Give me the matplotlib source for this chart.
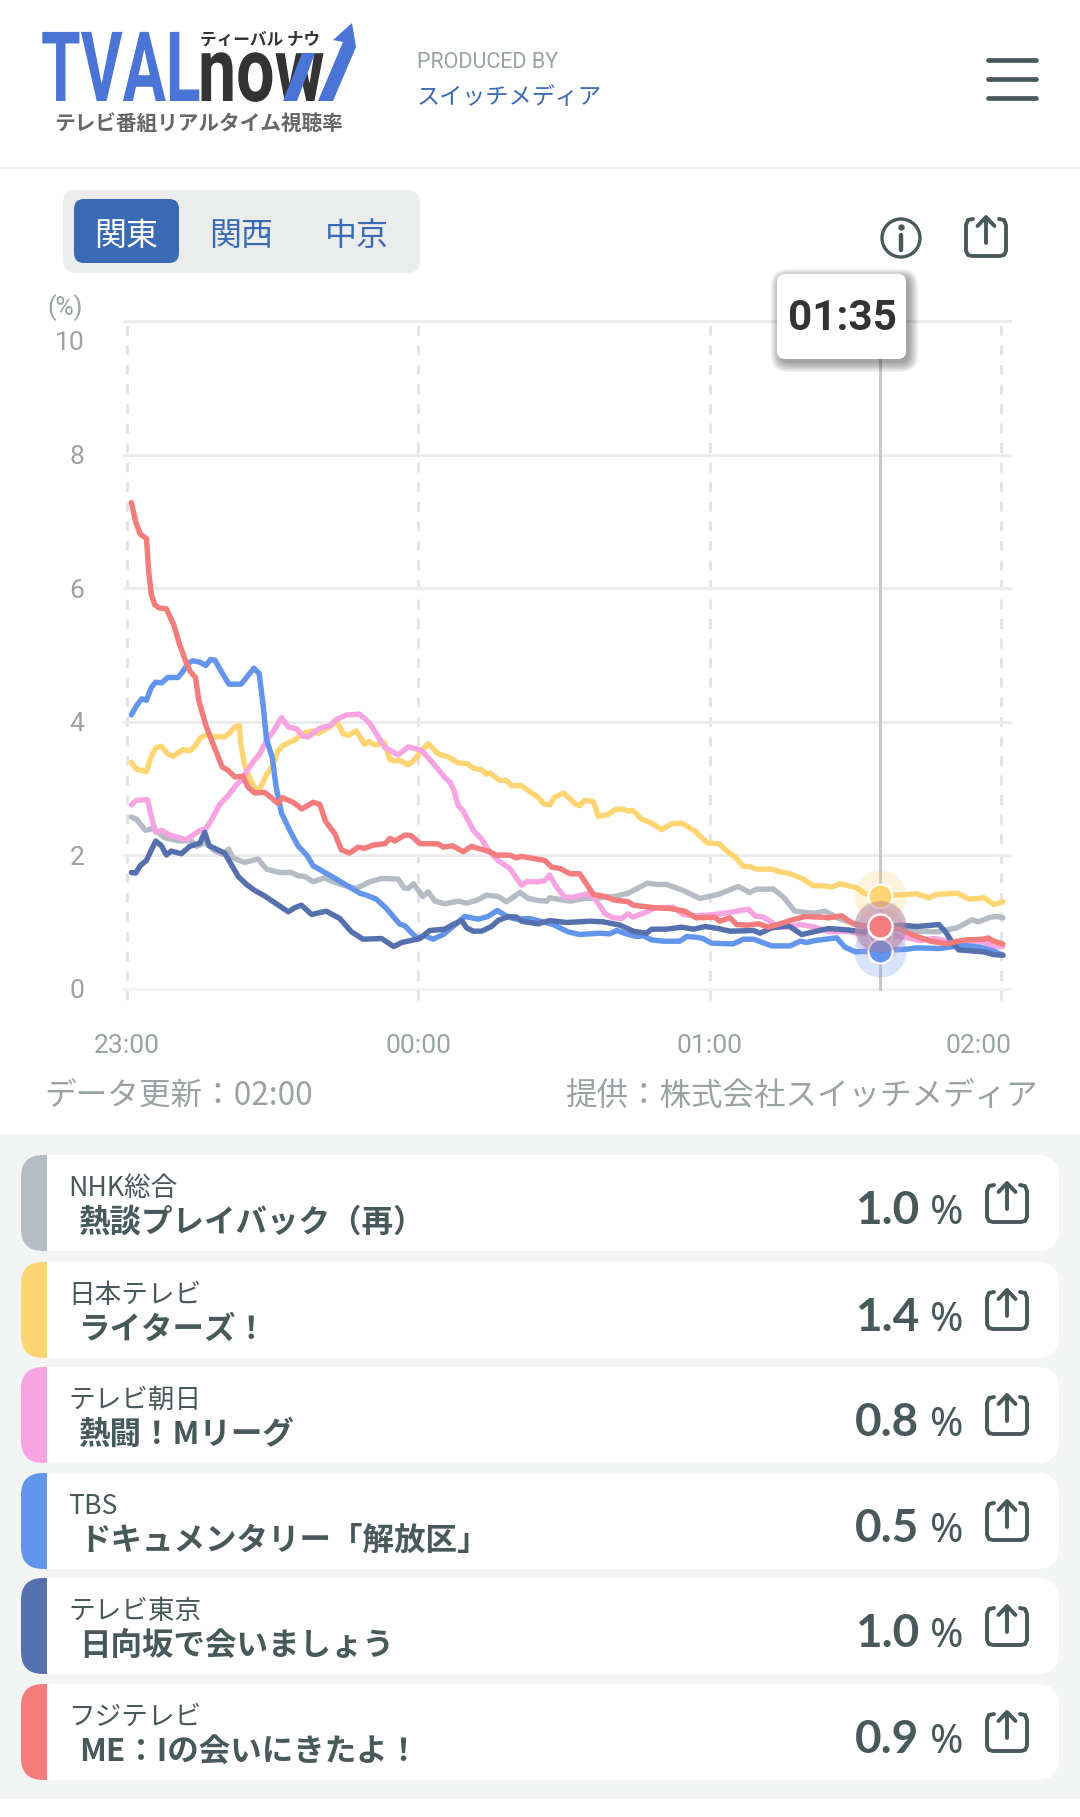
import matplotlib
matplotlib.use('Agg')
import matplotlib.pyplot as plt
from matplotlib.patches import FancyBboxPatch, Rectangle, Polygon, Circle
from matplotlib.patheffects import AbstractPathEffect
from matplotlib.transforms import Affine2D, ScaledTranslation

plt.rcParams['font.family'] = ['Noto Sans CJK JP', 'DejaVu Sans']

# minutes after 23:00 / rating %
nhk_t = [0.9, 1.9, 3.8, 5.4, 7.8, 10.8, 13.2, 14.3, 16.2, 18.1, 19.8, 20.9, 21.8, 24.2, 27, 28.7, 31.4, 33.8, 35.2, 36.6, 38.3, 40.7, 42.4, 44.5, 47.2, 50, 52.4, 55.8, 57, 57.9, 59, 60.9, 62, 63.4, 65.4, 68.2, 69.9, 71.9, 74, 76.4, 78.1, 80.9, 82.6, 84.6, 86.4, 87, 91.2, 94.2, 97.3, 100.4, 103.2, 107.1, 109, 111.1, 114.5, 117.9, 121.7, 125.8, 128.2, 129.6, 133.1, 135.1, 137.5, 139.9, 141.6, 143.7, 146.8, 151.6, 155, 162.6, 166.7, 170.9, 173.9, 175.3, 177.7, 179.1, 180.3]
nhk_v = [2.57, 2.54, 2.37, 2.40, 2.26, 2.21, 2.22, 2.13, 2.19, 2.06, 2.01, 2.09, 1.96, 1.89, 1.94, 1.79, 1.74, 1.74, 1.69, 1.68, 1.60, 1.66, 1.60, 1.55, 1.50, 1.60, 1.65, 1.64, 1.51, 1.50, 1.57, 1.38, 1.45, 1.31, 1.27, 1.31, 1.28, 1.32, 1.40, 1.38, 1.30, 1.44, 1.35, 1.32, 1.31, 1.36, 1.31, 1.35, 1.36, 1.38, 1.43, 1.58, 1.56, 1.56, 1.47, 1.35, 1.41, 1.53, 1.44, 1.49, 1.49, 1.37, 1.16, 1.14, 1.13, 1.16, 1.04, 0.93, 0.92, 0.86, 0.85, 0.91, 1.03, 1.00, 1.07, 1.08, 1.06]

ntv_t = [0.9, 1.9, 4, 5, 6, 7.1, 8.4, 9.5, 11.5, 12.9, 14, 15, 16.3, 18.4, 20.1, 21.1, 22.2, 23.1, 23.5, 24.2, 25.3, 26.3, 27.3, 28.7, 29.9, 31.1, 32.1, 33.5, 34.9, 35.9, 38.3, 39.3, 41.7, 43.2, 44.5, 45.5, 47.2, 48.9, 49.8, 51, 53, 54.1, 55.1, 56.1, 57.9, 59.2, 60.6, 62, 64, 66.1, 68.2, 70, 71.3, 73, 74, 74.7, 76.7, 78.1, 79.1, 81.2, 83.3, 84.6, 85.7, 87, 88.1, 89.9, 92.2, 93.2, 94.2, 96, 97, 99.1, 100.4, 101.8, 103.2, 104.1, 105.9, 108, 110, 112.1, 114.2, 116.9, 119.5, 121.9, 123.8, 125.2, 126.9, 128.2, 129.6, 132.7, 134.4, 136.5, 139.2, 141.3, 143.4, 145.1, 146.8, 150.2, 151.9, 155.1, 158.5, 162.6, 165, 166.7, 170.9, 173.3, 176.4, 178.4, 180.3]
ntv_v = [3.39, 3.29, 3.25, 3.48, 3.61, 3.63, 3.51, 3.48, 3.58, 3.56, 3.63, 3.75, 3.80, 3.77, 3.77, 3.83, 3.92, 3.94, 3.64, 3.35, 3.15, 3.00, 2.98, 3.20, 3.33, 3.56, 3.64, 3.69, 3.74, 3.82, 3.86, 3.82, 3.92, 4.00, 3.82, 3.79, 3.86, 3.66, 3.70, 3.65, 3.68, 3.43, 3.41, 3.42, 3.35, 3.43, 3.56, 3.67, 3.52, 3.47, 3.38, 3.37, 3.30, 3.28, 3.21, 3.23, 3.12, 3.12, 3.04, 3.04, 2.93, 2.87, 2.77, 2.75, 2.87, 2.93, 2.77, 2.74, 2.82, 2.80, 2.58, 2.61, 2.68, 2.69, 2.66, 2.67, 2.54, 2.48, 2.38, 2.47, 2.48, 2.36, 2.18, 2.17, 2.04, 1.97, 1.83, 1.83, 1.79, 1.79, 1.75, 1.72, 1.64, 1.54, 1.54, 1.52, 1.57, 1.51, 1.42, 1.39, 1.40, 1.42, 1.36, 1.41, 1.43, 1.34, 1.36, 1.26, 1.30]

asahi_t = [0.9, 1.9, 4.2, 5, 5.9, 7.1, 8.8, 12.2, 13.6, 15, 16.2, 17.4, 19.1, 20.8, 22.5, 23.5, 24.6, 26.3, 27.3, 28.7, 30.1, 31.8, 33.2, 34.9, 36.2, 37.3, 39.7, 41.8, 43.1, 45.2, 47.9, 50, 53.1, 54.4, 55.8, 57.9, 60.6, 61.6, 64, 65.4, 66.5, 67.3, 68.2, 69.2, 71.3, 73, 74.7, 76.4, 78.8, 81.2, 82.2, 84.6, 86, 87, 88.4, 90.1, 91.8, 94.9, 96.3, 98.4, 100.1, 101.8, 103.2, 104.1, 107, 108.7, 112.4, 114.5, 116.6, 119.5, 122, 124.8, 127.9, 129.3, 131, 132.4, 133.7, 135.8, 138.6, 141.6, 144.7, 148.2, 150.9, 155, 159.9, 163.3, 166, 170.2, 176.4, 178.4, 180.3]
asahi_v = [2.75, 2.82, 2.83, 2.58, 2.34, 2.37, 2.30, 2.23, 2.30, 2.37, 2.39, 2.53, 2.76, 2.89, 3.05, 3.12, 3.25, 3.43, 3.51, 3.72, 3.85, 4.06, 3.92, 3.89, 3.78, 3.77, 3.90, 3.94, 4.03, 4.10, 4.11, 3.97, 3.61, 3.56, 3.50, 3.62, 3.57, 3.49, 3.29, 3.16, 3.09, 2.97, 2.74, 2.66, 2.37, 2.24, 2.04, 1.92, 1.80, 1.55, 1.60, 1.60, 1.62, 1.70, 1.52, 1.37, 1.37, 1.42, 1.35, 1.12, 1.06, 1.05, 1.12, 1.07, 1.15, 1.21, 1.22, 1.11, 1.09, 1.10, 1.12, 1.15, 1.19, 1.09, 1.07, 1.01, 0.93, 0.92, 0.96, 0.92, 0.85, 0.86, 0.82, 0.82, 0.77, 0.72, 0.75, 0.70, 0.70, 0.62, 0.63]

tbs_t = [0.9, 1.9, 3, 4, 5, 5.9, 7.1, 8.4, 10.5, 11.5, 12.6, 13.6, 15, 16.2, 17.2, 18.1, 19.4, 21, 23.5, 24.6, 26.1, 27.2, 28, 28.7, 29.9, 30.7, 31.8, 33.5, 35.2, 37.1, 38.3, 41.7, 47.9, 49.3, 51.3, 53.4, 54.8, 56.1, 57.2, 59.6, 61.3, 63, 65.1, 67.1, 69.5, 72.3, 74.3, 76.2, 78.5, 80.2, 82.9, 87.7, 90.8, 93.2, 97.3, 99.4, 100.8, 102.8, 104.9, 106.3, 108, 110.4, 113.8, 115.2, 117.2, 118.6, 120.3, 124.8, 126.9, 129, 132.7, 136.5, 138.6, 139.9, 141.6, 146.1, 147.8, 149.9, 155, 160.5, 162.6, 167.1, 172, 175.7, 178.4, 180.3]
tbs_v = [4.10, 4.23, 4.34, 4.32, 4.51, 4.59, 4.58, 4.66, 4.66, 4.75, 4.88, 4.91, 4.89, 4.84, 4.93, 4.92, 4.75, 4.56, 4.56, 4.66, 4.80, 4.72, 4.26, 3.74, 3.46, 3.02, 2.63, 2.37, 2.14, 1.99, 1.84, 1.70, 1.43, 1.40, 1.34, 1.20, 1.08, 0.97, 0.94, 0.76, 0.79, 0.74, 0.81, 0.93, 1.08, 1.04, 1.08, 1.17, 1.07, 1.04, 1.05, 0.96, 0.85, 0.81, 0.83, 0.82, 0.87, 0.82, 0.78, 0.79, 0.73, 0.71, 0.71, 0.78, 0.77, 0.75, 0.68, 0.67, 0.74, 0.74, 0.64, 0.64, 0.71, 0.69, 0.72, 0.76, 0.62, 0.55, 0.57, 0.59, 0.61, 0.60, 0.65, 0.62, 0.56, 0.50]

tx_t = [0.9, 1.8, 2.7, 4, 5.9, 7.1, 8.1, 9.1, 11.2, 12.9, 15, 16, 16.9, 20.1, 22.9, 24.6, 26.3, 28.3, 33.2, 34.5, 35.9, 38, 41, 43.8, 46.2, 48.6, 52.4, 54.9, 56.5, 60.3, 62.3, 65.4, 67.1, 68.9, 69.9, 71.3, 73, 75, 76.4, 78.5, 80.2, 81.2, 84.6, 87, 90.5, 95.3, 98, 101.5, 104.2, 106.9, 108, 111, 114.2, 116.6, 119, 121.7, 124.1, 128.9, 130.3, 132.7, 136.2, 138.9, 141.3, 144.4, 148.2, 151.6, 155, 159.2, 162.6, 167.1, 168.5, 169.8, 171.2, 176.4, 178.4, 180.3]
tx_v = [1.74, 1.73, 1.84, 1.92, 2.21, 2.14, 2.00, 2.06, 2.02, 2.13, 2.18, 2.34, 2.14, 2.03, 1.68, 1.56, 1.47, 1.39, 1.15, 1.21, 1.25, 1.11, 1.16, 1.05, 0.85, 0.74, 0.75, 0.63, 0.69, 0.75, 0.87, 0.89, 0.96, 1.02, 0.91, 0.86, 0.86, 0.93, 1.02, 1.08, 1.07, 1.01, 0.97, 1.02, 0.99, 1.01, 1.00, 0.95, 0.86, 0.83, 0.89, 0.89, 0.92, 0.89, 0.93, 0.90, 0.86, 0.87, 0.83, 0.91, 0.94, 0.81, 0.85, 0.90, 0.88, 0.85, 0.90, 0.95, 0.93, 0.96, 0.85, 0.70, 0.58, 0.55, 0.51, 0.50]

fuji_t = [0.9, 1.8, 2.7, 4, 4.5, 5, 5.7, 6.7, 8.1, 9.6, 10.8, 12.1, 13, 14.1, 14.8, 16.2, 17.4, 18.4, 19.6, 20.8, 22.2, 23.9, 24.9, 26.3, 28.3, 29.7, 31.1, 32, 34.2, 36, 38.3, 39.7, 40.9, 42.8, 44.1, 45.8, 47.6, 48.9, 50.7, 53.1, 54.1, 55.1, 57.2, 58.5, 60.3, 64, 65.1, 67, 69.2, 70.9, 74.7, 75.9, 78.8, 80.1, 81.2, 86, 87.4, 89.1, 91.2, 93.2, 96, 98.4, 100.1, 103.2, 104.2, 108.7, 111.8, 114.8, 117.2, 121, 122, 124.1, 125.5, 127.6, 130, 132, 134.4, 136.5, 139.6, 142.7, 144.4, 147.1, 149.5, 152.3, 155.1, 158.5, 161.9, 165.4, 168.8, 170.9, 172.9, 176.4, 177.2, 178.4, 180.3]
fuji_v = [7.28, 6.99, 6.81, 6.74, 6.22, 5.91, 5.75, 5.70, 5.69, 5.45, 5.16, 4.90, 4.75, 4.66, 4.31, 3.95, 3.72, 3.54, 3.32, 3.27, 3.17, 3.18, 3.02, 2.93, 2.94, 2.86, 2.77, 2.86, 2.79, 2.69, 2.79, 2.76, 2.50, 2.32, 2.08, 2.03, 2.12, 2.10, 2.15, 2.17, 2.25, 2.21, 2.30, 2.29, 2.17, 2.17, 2.12, 2.14, 2.05, 2.13, 2.05, 2.00, 2.00, 1.96, 1.98, 1.92, 1.82, 1.80, 1.72, 1.72, 1.41, 1.38, 1.33, 1.30, 1.25, 1.21, 1.20, 1.16, 1.06, 1.07, 1.01, 1.06, 0.96, 0.95, 0.97, 0.92, 0.97, 1.02, 1.08, 1.07, 1.06, 1.09, 0.97, 0.93, 0.94, 0.90, 0.80, 0.71, 0.67, 0.71, 0.73, 0.74, 0.76, 0.71, 0.67]

series_t = [nhk_t, ntv_t, asahi_t, tbs_t, tx_t, fuji_t]
series_v = [nhk_v, ntv_v, asahi_v, tbs_v, tx_v, fuji_v]
colors = ['#b5bcc5', '#ffd573', '#f6a4e2', '#6495ed', '#5670ae', '#f47c7c']
cursor_t = 155
cursor_v = [0.95, 1.39, 0.82, 0.56, 0.93, 0.94]

hour_ticks = [0, 60, 120, 180]
hour_labels = ['23:00', '00:00', '01:00', '02:00']
pct_ticks = [0, 2, 4, 6, 8, 10]
regions = ['関東', '関西', '中京']
networks = ['NHK総合', '日本テレビ', 'テレビ朝日', 'TBS', 'テレビ東京', 'フジテレビ']
titles = ['熱談プレイバック（再）', 'ライターズ！', '熱闘！Mリーグ', 'ドキュメンタリー「解放区」', '日向坂で会いましょう', 'ME：Iの会いにきたよ！']
ratings = ['1.0', '1.4', '0.8', '0.5', '1.0', '0.9']

DARK = '#47595a'
GREY = '#99a3a3'
BLUE = '#3a6ab4'
W = 1080.
H = 1817.


# stretches real text upward from its baseline, the logo lettering is very condensed
class Tall(AbstractPathEffect):
    def __init__(self, y0, sy):
        super().__init__()
        self.y0 = y0
        self.sy = sy

    def draw_path(self, renderer, gc, tpath, affine, rgbFace=None):
        a = affine + Affine2D().translate(0, -self.y0).scale(1, self.sy).translate(0, self.y0)
        renderer.draw_path(gc, tpath, a, rgbFace)


fig = plt.figure(figsize=(W / 100, H / 100), dpi=100, facecolor='white')

# ========== Chart ========== #
ax_l, ax_r, ax_t, ax_b = 124., 1010., 321., 1000.
ax = fig.add_axes([ax_l / W, 1 - ax_b / H, (ax_r - ax_l) / W, (ax_b - ax_t) / H])
ax.set_xlim((ax_l - 127) / 4.858, (ax_r - 127) / 4.858)
ax.set_ylim((988.6 - ax_b) / 66.76, (988.6 - ax_t) / 66.76)
for s in ax.spines.values():
    s.set_visible(False)
ax.set_xticks(hour_ticks)
ax.set_xticklabels(hour_labels, family='Roboto')
ax.set_yticks(pct_ticks)
ax.set_yticklabels([str(p) for p in pct_ticks], family='Roboto')
ax.tick_params(axis='x', length=0, pad=24.5, labelsize=19, labelcolor=GREY)
ax.tick_params(axis='y', length=0, pad=28.5, labelsize=19, labelcolor=GREY)
ax.set_axisbelow(True)
ax.grid(axis='y', color='#ececec', linewidth=2.2)
ax.grid(axis='x', color='#e4e4e4', linewidth=2.2, linestyle=(0, (3.2, 3.2)))
for g in ax.get_ygridlines() + ax.get_xgridlines():
    g.set_clip_on(False)
ax.get_ygridlines()[0].set_color('#f2f2f2')
# first and last labels sit off their ticks
lab = ax.get_xticklabels()[3]
lab.set_transform(lab.get_transform() + ScaledTranslation(-23 / 100, 0, fig.dpi_scale_trans))
lab = ax.get_yticklabels()[5]
lab.set_transform(lab.get_transform() + ScaledTranslation(0, -20 / 100, fig.dpi_scale_trans))

ax.plot([cursor_t, cursor_t], [0, 10], color='#c8c8c8', linewidth=2.2, zorder=3)
for i in range(6):
    ax.plot(series_t[i], series_v[i], color=colors[i], linewidth=3.9, solid_joinstyle='round',
            solid_capstyle='round', zorder=4)
for i in range(6):
    ax.scatter([cursor_t], [cursor_v[i]], s=1400, color=colors[i], alpha=0.25, linewidths=0, zorder=5 + i)
    ax.scatter([cursor_t], [cursor_v[i]], s=300, color=colors[i], edgecolors='white', linewidths=1.6, zorder=5 + i)

# ========== UI layer, pixel coordinates ========== #
ui = fig.add_axes([0, 0, 1, 1], zorder=5)
ui.set_xlim(0, W)
ui.set_ylim(H, 0)
ui.axis('off')
ui.patch.set_alpha(0)


def rbox(x0, y0, x1, y1, r, color, **kw):
    p = FancyBboxPatch((x0 + r, y0 + r), x1 - x0 - 2 * r, y1 - y0 - 2 * r,
                       boxstyle='round,pad=%f,rounding_size=%f' % (r, r),
                       facecolor=color, edgecolor='none', **kw)
    ui.add_patch(p)
    return p


def share_icon(x0, y0):
    # box open at the top with an arrow going out, 40 px square
    ui.plot([x0 + 7, x0 + 2, x0, x0, x0 + 2, x0 + 6, x0 + 34, x0 + 38, x0 + 40, x0 + 40, x0 + 38, x0 + 33],
            [y0 + 3, y0 + 4, y0 + 9, y0 + 35, y0 + 39, y0 + 40, y0 + 40, y0 + 39, y0 + 35, y0 + 9, y0 + 4, y0 + 3],
            color=DARK, linewidth=2.8, solid_joinstyle='round', solid_capstyle='round')
    ui.plot([x0 + 20, x0 + 20], [y0 + 2, y0 + 27], color=DARK, linewidth=2.8, solid_capstyle='round')
    ui.plot([x0 + 11.5, x0 + 20, x0 + 28.5], [y0 + 10, y0 + 1, y0 + 10], color=DARK, linewidth=2.8,
            solid_joinstyle='round', solid_capstyle='round')


# Header
t = ui.text(41, 101, 'TVAL', family='Roboto', fontweight='bold', fontsize=46.2, color='#4a74d6', ha='left', va='baseline')
t.set_path_effects([Tall(H - 101, 1.515)])
t = ui.text(198, 101, 'now', family='Roboto', fontweight='bold', fontsize=49, color='#333333', ha='left', va='baseline')
t.set_path_effects([Tall(H - 101, 1.33)])
ui.add_patch(Polygon([(283, 101), (302, 53), (315, 53), (297, 101)], facecolor='#4a74d6', edgecolor='none', zorder=4))
ui.add_patch(Polygon([(318, 101), (333, 101), (356, 47), (352, 23), (333, 40), (343, 42)], facecolor='#4a74d6', edgecolor='none', zorder=4))
ui.text(200, 39.5, 'ティーバル ナウ', fontsize=12, fontweight='bold', color='#333333', ha='left', va='center')
ui.text(54, 124, 'テレビ番組リアルタイム視聴率', fontsize=14.9, fontweight='bold', color='#666666', ha='left', va='center')
ui.text(417, 62.5, 'PRODUCED BY', family='Roboto', fontsize=15.5, color=GREY, ha='left', va='center')
ui.text(417, 97.5, 'スイッチメディア', fontsize=16.7, color=BLUE, ha='left', va='center')
for y in [60, 79, 98]:
    ui.plot([988, 1036], [y, y], color=DARK, linewidth=3.4, solid_capstyle='round')
ui.plot([0, W], [168, 168], color='#eceeee', linewidth=1.5)

# Region switch
rbox(63, 190, 420, 273, 13, '#ebeded')
rbox(74, 199, 179, 263, 10, BLUE)
for x, name, c in zip([126, 241, 357], regions, ['white', BLUE, BLUE]):
    ui.text(x, 235.5, name, fontsize=23, color=c, ha='center', va='center')

# Info and share
ui.add_patch(Circle((901, 238), 19, facecolor='white', edgecolor=DARK, linewidth=2.4))
ui.plot([901, 901], [235, 250], color=DARK, linewidth=3.2, solid_capstyle='round')
ui.plot([901], [227], marker='o', markersize=3.6, color=DARK)
share_icon(966, 216)

# Tooltip
ui.text(65, 308, '(%)', family='Roboto', fontsize=18, color=GREY, ha='center', va='center')
for i in range(7):
    d = 9 - i * 1.5
    rbox(777 + 3 - d, 274 + 4 - d, 906 + 3 + d, 359 + 4 + d, 8 + d, 'black', alpha=0.06)
rbox(777, 274, 906, 359, 8, 'white')
ui.text(842, 318.5, '01:35', family='Roboto', fontweight='bold', fontsize=30.4, color='#333333', ha='center', va='center')

# Footer of the chart
ui.text(44, 1096.5, 'データ更新：02:00', fontsize=22.8, color=GREY, ha='left', va='center')
ui.text(1038, 1096.5, '提供：株式会社スイッチメディア', fontsize=22.7, color=GREY, ha='right', va='center')

# Channel list
ui.add_patch(Rectangle((0, 1134), W, 1799 - 1134, facecolor='#f3f5f5', edgecolor='none'))
row_top = [1155, 1262, 1367, 1473, 1578, 1684]
for i in range(6):
    y = row_top[i]
    rbox(21, y, 1059, y + 96, 22, 'white')
    bar = rbox(21, y, 1059, y + 96, 22, colors[i])
    clip = Rectangle((21, y), 26, 96, transform=ui.transData)
    bar.set_clip_path(clip)
    ui.text(68, y + 33.5, networks[i], fontsize=19.2, color=DARK, ha='left', va='center')
    ui.text(79, y + 67.5, titles[i], fontsize=22.7, fontweight='bold', color=DARK, ha='left', va='center')
    ui.text(919, y + 56, ratings[i], family='Lato', fontweight='bold', fontsize=33, color=DARK, ha='right', va='center')
    ui.text(930, y + 59, '%', family='Noto Sans', fontweight='medium', fontsize=29, color=DARK, ha='left', va='center')
    share_icon(987, y + 27)

fig.savefig('out.png', dpi=100)
